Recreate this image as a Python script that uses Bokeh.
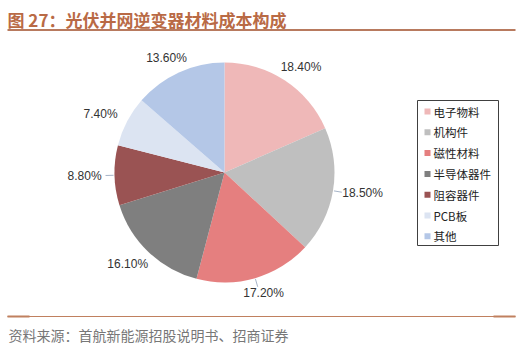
import math
from bokeh.plotting import figure
from bokeh.models import Range1d, ColumnDataSource
from bokeh.core.properties import value
from bokeh.embed import file_html
from bokeh.resources import INLINE

# ---- data ----
categories = ["电子物料", "机构件", "磁性材料", "半导体器件", "阻容器件", "PCB板", "其他"]
shares = [18.4, 18.5, 17.2, 16.1, 8.8, 7.4, 13.6]
labels = ["18.40%", "18.50%", "17.20%", "16.10%", "8.80%", "7.40%", "13.60%"]
colors = ["#EFB8B8", "#BFBFBF", "#E57F7F", "#7F7F7F", "#9A5353", "#DCE4F2", "#B4C7E7"]
leader = [False, True, True, False, True, False, False]

title_text = "图 27：光伏并网逆变器材料成本构成"
source_text = "资料来源：首航新能源招股说明书、招商证券"

W, H = 527, 344
p = figure(width=W, height=H, output_backend="svg", toolbar_location=None,
           x_range=Range1d(0, W), y_range=Range1d(0, H),
           x_axis_location=None, y_axis_location=None, min_border=0)
p.grid.visible = False
p.outline_line_color = None
p.background_fill_color = "white"
p.border_fill_color = "white"

def Y(y):  # screen y (top-down) to data y
    return H - y

# ---- pie ----
cx, cy, R = 224, Y(172), 110
total = sum(shares)
starts, ends, mids = [], [], []
cum = 0.0
for s in shares:
    a0 = math.pi / 2 - 2 * math.pi * cum / total
    cum += s
    a1 = math.pi / 2 - 2 * math.pi * cum / total
    starts.append(a0)
    ends.append(a1)
    mids.append((a0 + a1) / 2)

src = ColumnDataSource(dict(start=starts, end=ends, color=colors))
p.wedge(x=cx, y=cy, radius=R, start_angle="start", end_angle="end",
        direction="clock", fill_color="color", line_color=None, source=src)

# ---- labels ----
lw, lh = 40, 12
lx, ly = [], []
seg = dict(x0=[], y0=[], x1=[], y1=[])
for m, has_leader in zip(mids, leader):
    c, s = math.cos(m), math.sin(m)
    px, py = cx + (R + 10) * c, cy + (R + 10) * s
    lx.append(px + lw / 2 * c)
    ly.append(py + lh / 2 * s)
    if has_leader:
        seg["x0"].append(cx + (R + 1) * c)
        seg["y0"].append(cy + (R + 1) * s)
        seg["x1"].append(cx + (R + 9) * c)
        seg["y1"].append(cy + (R + 9) * s)
p.segment(x0="x0", y0="y0", x1="x1", y1="y1", source=ColumnDataSource(seg),
          line_color="#A6B4C8", line_width=1)
p.text(x=lx, y=ly, text=labels, text_align="center", text_baseline="middle",
       text_font=value("Liberation Sans"), text_font_size="12px", text_color="#333333")

# ---- legend ----
lg_x0, lg_x1, lg_y0, lg_y1 = 417, 498, 100, 245
p.quad(left=lg_x0, right=lg_x1, bottom=Y(lg_y1), top=Y(lg_y0),
       fill_color=None, line_color="#404040", line_width=1)
item_y = [Y(111 + i * 20.8) for i in range(len(categories))]
p.scatter(x=[427] * len(categories), y=item_y, marker="square", size=6,
          fill_color=colors, line_color=None)
p.text(x=[433] * len(categories), y=item_y, text=categories, text_align="left",
       text_baseline="middle", text_font=value("Noto Sans CJK SC"),
       text_font_size="11.5px", text_color="#222222")

# ---- title & rules ----
p.text(x=[7], y=[Y(19)], text=[title_text], text_align="left", text_baseline="middle",
       text_font=value("Noto Sans CJK SC"), text_font_size="17px",
       text_font_style="bold", text_color="#B96A45")
p.segment(x0=[7], y0=[Y(29.5)], x1=[515], y1=[Y(29.5)], line_color="#B87A5E", line_width=2)
p.segment(x0=[7], y0=[Y(316)], x1=[515], y1=[Y(316)], line_color="#C0805F", line_width=1)
p.segment(x0=[7, 493], y0=[Y(316)] * 2, x1=[29, 515], y1=[Y(316)] * 2,
          line_color="#C0805F", line_width=2)
p.text(x=[8], y=[Y(334)], text=[source_text], text_align="left", text_baseline="middle",
       text_font=value("Noto Sans CJK SC"), text_font_size="14px", text_color="#777777")

open("out.html", "w").write(file_html(p, INLINE))
